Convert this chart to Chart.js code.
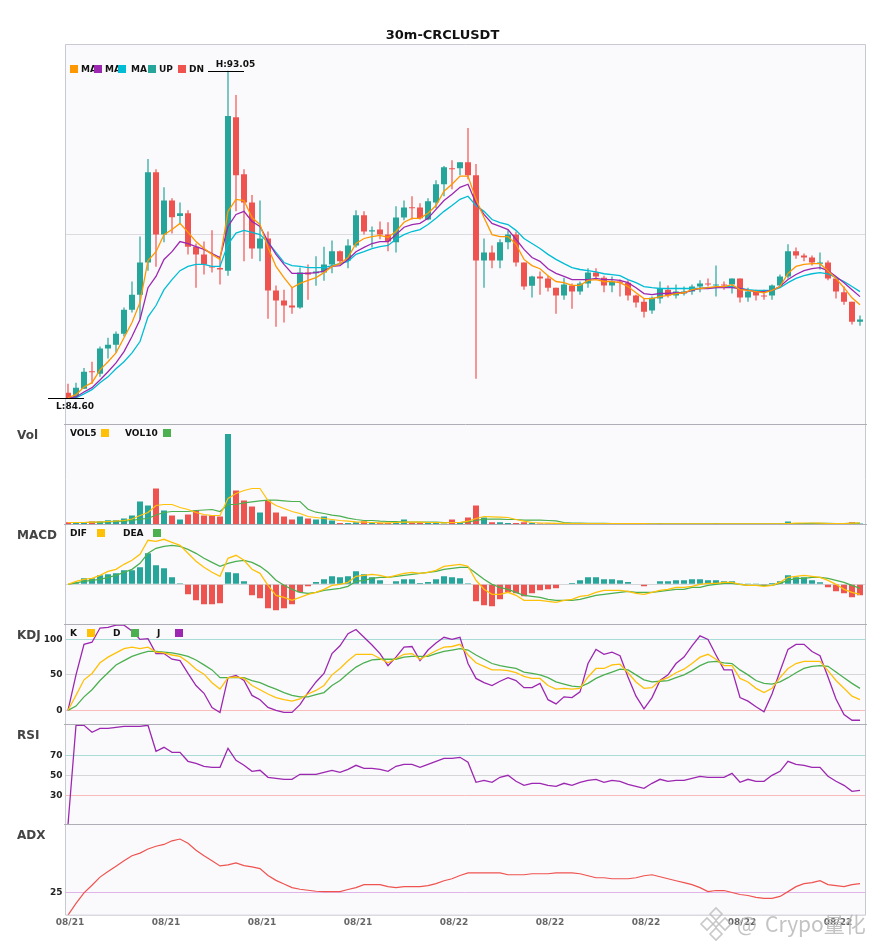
<!DOCTYPE html>
<html><head><meta charset="utf-8">
<style>html,body{margin:0;padding:0;background:#fff}canvas{display:block}</style>
<script src="https://cdn.jsdelivr.net/npm/chart.js@4"></script>
</head><body><canvas id="c" width="885" height="950"></canvas>
<script>
const title = '30m-CRCLUSDT';
const dateLabels = ['08/21','08/21','08/21','08/21','08/22','08/22','08/22','08/22','08/22'];
const opens = [84.74,84.63,84.84,85.29,85.23,85.88,85.98,86.26,86.88,87.27,
88.10,90.43,88.82,89.70,89.30,89.37,88.51,88.31,88.00,87.96,
87.89,91.85,90.38,89.65,88.46,88.72,87.38,87.12,86.99,86.94,
87.84,87.82,87.84,88.05,88.39,88.15,88.54,89.32,88.90,88.95,
88.82,88.62,89.26,89.52,89.52,89.21,89.65,90.12,90.53,90.53,
90.69,90.35,88.15,88.36,88.15,88.62,88.82,88.10,87.50,87.74,
87.69,87.45,87.25,87.51,87.35,87.56,87.84,87.71,87.51,87.61,
87.58,87.25,87.09,86.86,87.17,87.40,87.25,87.30,87.35,87.48,
87.56,87.51,87.53,87.53,87.69,87.20,87.35,87.25,87.25,87.51,
87.74,88.39,88.28,88.23,88.07,88.10,87.69,87.33,87.09,86.57];
const closes = [84.60,84.87,85.28,85.27,85.88,85.98,86.26,86.88,87.27,88.10,
90.43,88.82,89.70,89.27,89.37,88.51,88.31,88.05,87.97,87.92,
91.88,90.35,89.65,88.46,88.72,87.38,87.12,86.99,86.94,87.84,
87.79,87.87,88.05,88.39,88.13,88.54,89.32,88.90,88.93,88.82,
88.64,89.26,89.52,89.50,89.24,89.68,90.12,90.56,90.51,90.69,
90.35,88.15,88.36,88.15,88.62,88.82,88.10,87.48,87.74,87.69,
87.45,87.25,87.53,87.35,87.56,87.84,87.74,87.51,87.61,87.58,
87.25,87.07,86.83,87.19,87.43,87.25,87.35,87.35,87.48,87.56,
87.53,87.53,87.51,87.69,87.20,87.35,87.25,87.22,87.51,87.74,
88.39,88.28,88.23,88.10,88.10,87.69,87.35,87.09,86.57,86.63];
const lows = [84.60,84.61,84.84,84.97,85.15,85.62,85.77,86.19,86.81,86.63,
87.89,87.99,88.62,88.85,89.09,88.31,87.45,87.79,87.84,87.53,
87.76,89.42,88.13,88.20,88.13,86.65,86.44,86.55,86.78,86.91,
87.14,87.50,87.63,87.82,88.05,87.95,88.49,88.82,88.49,88.70,
88.39,88.36,89.19,89.21,89.21,89.19,89.50,89.81,89.99,90.35,
90.25,85.10,87.45,87.95,87.95,88.44,88.00,87.40,87.20,87.27,
87.35,86.78,87.14,86.91,87.27,87.45,87.66,87.33,87.33,87.22,
87.12,86.94,86.68,86.78,87.04,87.20,87.17,87.25,87.27,87.33,
87.48,87.22,87.40,87.30,87.07,87.09,87.12,87.14,87.14,87.45,
87.69,88.20,88.13,88.02,87.92,87.64,87.17,87.01,86.50,86.47];
const highs = [84.97,85.00,85.38,85.54,85.93,86.16,86.32,86.94,87.61,88.77,
90.77,90.51,90.04,89.76,89.65,89.45,88.59,88.64,88.93,88.23,
93.05,92.42,90.51,89.84,89.70,88.90,87.51,87.40,87.45,87.97,
88.05,88.26,88.51,88.67,88.41,88.70,89.45,89.42,89.03,89.16,
89.14,89.55,89.70,89.81,89.63,89.76,90.22,90.59,90.74,90.69,
91.57,90.64,88.72,88.54,88.70,88.93,88.90,88.10,87.76,87.87,
87.76,87.45,87.71,87.56,87.61,87.95,87.95,87.76,87.74,87.66,
87.64,87.27,87.17,87.22,87.61,87.51,87.53,87.48,87.53,87.64,
87.69,88.02,87.61,87.69,87.69,87.45,87.40,87.40,87.53,87.79,
88.57,88.49,88.33,88.28,88.36,88.15,87.69,87.48,87.09,86.73];
const ma5 = [84.61,84.69,84.89,85.00,85.33,85.54,85.77,86.16,86.55,87.07,
88.15,88.38,88.82,88.95,89.11,88.88,88.64,88.46,88.31,88.18,
89.42,89.73,89.70,89.26,89.08,88.49,88.00,87.71,87.45,87.56,
87.64,87.71,87.84,88.00,88.07,88.23,88.59,88.72,88.77,88.80,
88.75,88.90,89.14,89.24,89.24,89.37,89.57,89.94,90.12,90.33,
90.33,89.73,89.26,88.82,88.77,88.77,88.57,88.18,88.02,87.94,
87.76,87.61,87.58,87.51,87.51,87.64,87.66,87.61,87.61,87.58,
87.48,87.32,87.17,87.17,87.22,87.25,87.30,87.32,87.40,87.43,
87.45,87.48,87.48,87.53,87.40,87.38,87.35,87.32,87.38,87.48,
87.82,88.00,88.05,88.07,88.07,87.88,87.69,87.45,87.19,87.01];
const ma10 = [84.61,84.63,84.76,84.87,85.07,85.28,85.51,85.80,86.19,86.63,
87.45,87.74,88.18,88.38,88.64,88.59,88.51,88.44,88.33,88.23,
89.03,89.34,89.42,89.16,89.03,88.64,88.31,88.05,87.82,87.82,
87.82,87.84,87.88,88.00,88.02,88.18,88.38,88.49,88.59,88.64,
88.64,88.82,89.01,89.08,89.11,89.24,89.47,89.70,89.86,90.04,
90.12,89.63,89.34,89.11,89.03,88.95,88.70,88.44,88.23,88.13,
87.94,87.82,87.74,87.66,87.66,87.66,87.69,87.66,87.66,87.64,
87.58,87.45,87.30,87.27,87.30,87.30,87.32,87.32,87.38,87.43,
87.43,87.45,87.45,87.45,87.43,87.38,87.35,87.35,87.38,87.48,
87.66,87.79,87.89,87.94,87.97,87.89,87.74,87.58,87.40,87.22];
const ma20 = [84.61,84.61,84.71,84.82,85.00,85.15,85.36,85.54,85.77,86.06,
86.70,86.99,87.40,87.66,87.89,88.00,88.05,88.05,88.00,88.00,
88.57,88.86,88.93,88.88,88.82,88.62,88.36,88.10,88.02,88.00,
87.97,87.97,87.97,88.02,88.07,88.13,88.31,88.38,88.46,88.51,
88.54,88.70,88.82,88.90,88.95,89.08,89.24,89.42,89.57,89.73,
89.81,89.57,89.42,89.21,89.13,89.08,88.93,88.72,88.59,88.46,
88.31,88.18,88.07,87.97,87.92,87.89,87.86,87.81,87.79,87.76,
87.66,87.58,87.48,87.45,87.43,87.43,87.43,87.43,87.43,87.43,
87.45,87.45,87.48,87.48,87.43,87.40,87.38,87.38,87.38,87.45,
87.58,87.69,87.76,87.81,87.84,87.81,87.71,87.61,87.48,87.35];
const volume = [2.3,2,2,3,3,4.3,4.3,6,9,23,
19,36,14,9,5,10,14,9,9,8,
90.5,34,24,18,12,24,12,8,5,8,
6,5,8,4,1.5,1.5,2.3,3.3,1.5,1.5,
1.5,2,5,1.5,1.5,2,1.5,1,5,2,
7,19,7,2.3,2.3,1.5,1.5,2.3,1.5,1,
1,1.5,1,1,1,1,0.7,0.7,0.7,0.7,
0.6,0.6,0.6,0.6,1.3,0.6,0.6,0.6,0.5,0.5,
0.5,1.3,0.5,0.5,0.5,0.5,0.5,0.5,0.6,0.7,
3,0.8,0.8,0.8,0.8,0.8,0.8,1.3,2.3,1];
const vol5 = [2,2,2,2.3,2.5,3,3.5,4,5.5,9,
12,19,20,20,17,15,12,10,9,9,
26,31,34,36,36,24,19,16,13,11,
8,7,6,5,4,3.3,2.7,2.3,2,1.7,
1.7,2,2.3,2.3,2.3,2,2,1.7,2,2,
3.3,6,8,7.7,7.3,7,5,3.3,2,1.5,
1.3,1.2,1.1,1,1,1,0.8,0.8,0.8,0.8,
0.8,0.8,0.8,0.7,0.7,0.7,0.7,0.6,0.6,0.6,
0.6,0.6,0.6,0.6,0.6,0.6,0.6,0.6,0.6,0.6,
1,1.3,1.5,1.5,1.4,1,0.9,1,1.4,1.5];
const vol10 = [2,2,2,2.2,2.4,2.7,3,3.4,4,5.3,
6,9.5,12,13,13,13,14,14.5,15,13,
20,20,21.7,22.7,23.7,24.3,24.3,23.7,23,23,
15.3,12.3,11,9.3,8.3,6.3,5,4,4,3.3,
3,3,2.3,2.3,2.3,2.3,2.3,2,2,2,
2.7,4,5.3,5.3,5.3,5,5,4.3,4.3,4.3,
4,3.7,2,1.5,1.3,1.2,1.2,1.1,1,1,
0.9,0.8,0.8,0.7,0.7,0.7,0.7,0.7,0.6,0.6,
0.6,0.6,0.6,0.6,0.6,0.6,0.6,0.6,0.6,0.6,
0.9,1,1,1.1,1.1,1.1,1,1,1.2,1.3];
const macdHist = [0,2,6,6,9,10,11,14,14,17,
31,19,16,7,1,-10,-16,-20,-20,-19,
12,11,3,-11,-14,-24,-26,-24,-20,-8,
-2,2.3,5,8,7,8,13,10,7,4,
0,3,5,5,1.3,2.3,5,8,7,6,
1,-17,-21,-22,-15,-8,-9,-12,-9,-6,
-5,-4,0,1.3,4,7,7,5,5,4,
2.3,0,-2,0,3,3,4,4,5,5,
4,4,3,3,0.3,0.3,0.3,-1.5,1.3,3,
9,7,7,4,2,-3,-7,-9,-13,-11];
const dif = [0,3,5,6,9,13,15,20,24,30,
44,43,45,42,39,31,23,17,12,8,
26,29,24,15,11,-1,-11,-13,-16,-13,
-10,-8,-5,-1,0,2,8,9,10,9,
7,9,11,12,11,12,14,18,19,20,
18,4,-5,-10,-10,-8,-11,-16,-16,-16,
-17,-18,-16,-15,-12,-11,-8,-6,-6,-6,
-7,-9,-10,-8,-6,-5,-3,-3,-2,0,
1,1,2,2,0,-1,-1,-2,-1,2,
7,8,9,8,7,4,0,-5,-8,-10];
const dea = [0,1.5,3,4,5,7,9,12,15,21,
31,36,38,39,38,35,31,26,22,18,
21,23,24,22,18,12,4,-1,-5,-8,
-9,-8,-6,-5,-4,-2,3,4,6,7,
7,8,9,10,11,12,13,15,16,17,
17,11,5,0,-3,-5,-8,-11,-12,-13,
-15,-16,-16,-16,-15,-13,-11,-10,-9,-8,
-7,-8,-8,-8,-7,-6,-5,-5,-3,-3,
-1,0,1,1,0,-1,-1,-1,-1,1,
4,6,6,7,7,6,4,2,-1,-4];
const kdjK = [0,21,43,52,67,75,81,87,89,87,
89,82,81,78,76,68,58,51,39,30,
46,47,45,35,29,23,18,15,13,16,
23,28,35,50,59,70,79,79,79,73,
67,73,79,80,72,78,84,89,90,93,
78,67,62,57,57,56,53,48,45,45,
35,30,31,30,31,47,59,59,64,65,
53,40,31,32,42,46,53,58,66,75,
79,72,63,63,45,40,31,25,31,46,
59,66,69,69,69,56,42,31,20,15];
const kdjD = [0,6,19,29,42,53,64,70,76,80,
83,83,82,81,79,76,71,64,57,46,
46,46,46,42,39,34,30,25,21,19,
19,22,25,35,42,52,61,67,71,72,
72,72,75,76,76,76,80,83,85,87,
85,78,72,66,63,61,59,54,52,50,
46,40,37,34,33,38,45,50,54,58,
57,50,43,40,41,42,46,50,56,63,
68,69,67,66,57,50,42,38,37,40,
46,53,59,62,63,62,54,46,38,31];
const kdjJ = [0,50,93,96,116,117,120,120,112,100,
101,80,80,72,70,52,35,24,4,-3,
46,49,42,21,15,4,0,-3,-3,8,
25,40,52,80,91,108,114,103,92,80,
63,75,89,90,70,85,95,103,100,103,
66,45,39,35,41,46,42,32,32,38,
15,9,19,18,26,66,86,79,82,77,
47,20,2,18,42,50,66,75,91,105,
100,78,57,57,18,13,5,-2,23,55,
86,93,93,83,77,47,16,-6,-14,-14];
const rsi = [0.8,100,100,93,97,97,98,99,99,99,
100,74,78,73,73,64,62,59,58,58,
77,65,60,54,55,48,47,46,46,51,
51,51,53,55,53,56,60,57,57,56,
54,59,61,61,58,61,64,67,67,68,
63,43,45,43,48,50,44,40,42,42,
40,39,42,40,43,45,46,43,45,44,
41,39,37,42,46,44,45,45,47,49,
48,48,48,52,43,46,44,44,50,54,
64,61,60,58,58,49,44,40,34,35];
const adx = [0,13,24.6,33,42,48.2,54,60,65.6,68.5,
73,76,78,82,84,79.3,71.7,65.6,60,54.3,
55.4,57.6,54.7,53.3,51.4,43.8,38.4,34.4,30.4,28.6,
27.5,26.4,26,26,26,28.3,30.4,33.7,33.7,33.7,
31.5,30.4,31.5,31.5,31.5,32.6,34.8,38,40.2,43.8,
46.7,46.7,46.7,46.7,46.7,44.6,44.6,44.6,45.7,45.7,
45.7,46.7,46.7,46.7,45.7,43.5,41.3,41.3,40.2,40.2,
40.2,41.3,43.5,44.6,42.4,40.2,38,35.9,33.7,30.4,
26,27.2,27.2,25,22.8,21.7,19.6,18.5,18.5,20.7,
26,31.5,34.8,35.9,38,33.7,32.6,31.5,33.7,34.8];

const TEAL='#26a69a', RED='#ef5350', ORANGE='#ff9800', PURPLE='#9c27b0', CYAN='#00bcd4', YELLOW='#ffc107', GREEN='#4caf50';
const FONT='"DejaVu Sans"';
const up = closes.map((c,i)=>c>=opens[i]);
const candleColor = up.map(u=>u?TEAL:RED);
const pts = a => a.map((y,i)=>({x:i,y}));

const line = (label,data,yAxisID,color,w) => ({type:'line',label,data:pts(data),yAxisID,borderColor:color,borderWidth:w||1.3,pointRadius:0,tension:0,fill:false,order:1});
const bar = (label,data,yAxisID,color,thick,extra) => Object.assign({type:'bar',label,data:data.map((y,i)=>({x:i,y})),yAxisID,backgroundColor:color,borderWidth:0,inflateAmount:0,barThickness:thick,grouped:false,order:5},extra||{});

const datasets = [
  bar('wick',lows.map((l,i)=>[l,highs[i]]),'yPrice',candleColor,1.2,{order:6}),
  bar('body',opens.map((o,i)=>[o,closes[i]]),'yPrice',candleColor,6,{order:5,minBarLength:1}),
  line('MA5',ma5,'yPrice',ORANGE,1.3),
  line('MA10',ma10,'yPrice',PURPLE,1.3),
  line('MA20',ma20,'yPrice',CYAN,1.3),
  bar('Vol',volume,'yVol',candleColor,6),
  line('VOL5',vol5,'yVol',YELLOW,1.2),
  line('VOL10',vol10,'yVol',GREEN,1.2),
  bar('MACD',macdHist,'yMacd',macdHist.map(v=>v>=0?TEAL:RED),6),
  line('DIF',dif,'yMacd',YELLOW,1.3),
  line('DEA',dea,'yMacd',GREEN,1.3),
  line('K',kdjK,'yKdj',YELLOW,1.3),
  line('D',kdjD,'yKdj',GREEN,1.3),
  line('J',kdjJ,'yKdj',PURPLE,1.3),
  line('RSI',rsi,'yRsi',PURPLE,1.3),
  line('ADX',adx,'yAdx',RED,1.2)
];

const SOFT_TEAL='#a9dcd7', SOFT_GREY='#d6d6da', SOFT_RED='#f9bcbb', SOFT_PLUM='#e0b4e8';
function yScale(weight,stackWeight,min,max,lines){
  const vals = Object.keys(lines).map(Number);
  return {
    type:'linear',position:'left',stack:'panels',stackWeight,weight,min,max,
    afterFit:s=>{s.width=65.5},
    afterBuildTicks:s=>{s.ticks=vals.map(value=>({value}))},
    border:{display:false},
    grid:{display:true,drawTicks:false,lineWidth:1,color:c=>c.tick?(lines[c.tick.value]||{}).c||'transparent':'transparent'},
    ticks:{autoSkip:false,padding:3,color:'#222',font:{family:FONT,size:9,weight:'bold'},
      callback:v=>(lines[v]||{}).t||''}
  };
}
const panelLabels = [['yVol','Vol'],['yMacd','MACD'],['yKdj','KDJ'],['yRsi','RSI'],['yAdx','ADX']];
const legendRows = [
  {y:69,items:[['MA',81,ORANGE,70],['MA',105,PURPLE,94],['MA',131,CYAN,118],['UP',159,TEAL,148],['DN',189,RED,178]]},
  {y:433,items:[['VOL5',70,YELLOW,101],['VOL10',125,GREEN,163]]},
  {y:533,items:[['DIF',70,YELLOW,97],['DEA',123,GREEN,153]]},
  {y:633,items:[['K',70,YELLOW,87],['D',113,GREEN,131],['J',157,PURPLE,175]]}
];
const decor = {
  id:'decor',
  beforeDraw(ch){
    const {ctx,chartArea:a}=ch;
    ctx.save();ctx.fillStyle='#fafafc';ctx.fillRect(a.left,a.top,a.right-a.left,a.bottom-a.top);ctx.restore();
  },
  afterDatasetsDraw(ch){
    const {ctx,chartArea:a,scales}=ch;
    ctx.save();
    ctx.lineWidth=1;
    ctx.strokeStyle='#c9c9d1';
    ctx.beginPath();
    ctx.moveTo(a.left,a.top);ctx.lineTo(a.right,a.top);
    ctx.moveTo(a.left,a.top);ctx.lineTo(a.left,a.bottom);
    ctx.moveTo(a.right,a.top);ctx.lineTo(a.right,a.bottom);
    ctx.moveTo(a.left,a.bottom);ctx.lineTo(a.right,a.bottom);
    ctx.stroke();
    ctx.strokeStyle='#aeaeb6';
    ctx.beginPath();
    ['yPrice','yVol','yMacd','yKdj','yRsi'].forEach(id=>{const b=scales[id].bottom;ctx.moveTo(a.left-1.5,b);ctx.lineTo(a.right+1.5,b);});
    ctx.stroke();
    // high / low markers
    const hiI=highs.indexOf(Math.max(...highs)), loI=lows.indexOf(Math.min(...lows));
    const xs=scales.x, yp=scales.yPrice;
    ctx.strokeStyle='#000';ctx.lineWidth=1;
    const mark=(i,v)=>{const x=xs.getPixelForValue(i),y=Math.round(yp.getPixelForValue(v))+0.5;ctx.beginPath();ctx.moveTo(x-20,y);ctx.lineTo(x+16,y);ctx.stroke();return [x,y];};
    const [hx,hy]=mark(hiI,highs[hiI]);
    const [lx,ly]=mark(loI,lows[loI]);
    ctx.fillStyle='#111';ctx.font='bold 9px '+FONT;ctx.textBaseline='middle';ctx.textAlign='center';
    ctx.fillText('H:'+highs[hiI].toFixed(2),hx+7.5,hy-6.5);
    ctx.fillText('L:'+lows[loI].toFixed(2),lx+7,ly+8.5);
    // legends: text first, squares over it
    ctx.textAlign='left';
    legendRows.forEach(r=>{
      r.items.forEach(it=>{ctx.fillStyle='#111';ctx.fillText(it[0],it[1],r.y+0.5);});
      r.items.forEach(it=>{ctx.fillStyle=it[2];ctx.fillRect(it[3],r.y-4,8,8);});
    });
    // panel labels
    ctx.fillStyle='#444';ctx.font='bold 12px '+FONT;
    panelLabels.forEach(p=>{ctx.fillText(p[1],17,scales[p[0]].top+11.5);});
    ctx.restore();
  },
  afterDraw(ch){
    const ctx=ch.ctx;
    ctx.save();
    ctx.strokeStyle='rgba(190,190,190,0.85)';ctx.lineWidth=1.6;
    [[716,914,6],[707,924,6],[725,924,6],[716,934,6],[716,924,3]].forEach(d=>{
      ctx.beginPath();ctx.moveTo(d[0]-d[2],d[1]);ctx.lineTo(d[0],d[1]-d[2]);ctx.lineTo(d[0]+d[2],d[1]);ctx.lineTo(d[0],d[1]+d[2]);ctx.closePath();ctx.stroke();
    });
    ctx.fillStyle='rgba(185,185,185,0.85)';
    ctx.textBaseline='middle';ctx.textAlign='left';
    ctx.font='21px "Noto Sans CJK SC"';
    ctx.fillText('@',737,924);
    ctx.fillText('Crypo量化',765,924);
    ctx.restore();
  }
};

new Chart(document.getElementById('c'),{
  data:{datasets},
  plugins:[decor],
  options:{
    responsive:false,animation:false,devicePixelRatio:1,
    events:[],
    layout:{autoPadding:false,padding:0},
    plugins:{
      legend:{display:false},tooltip:{enabled:false},
      title:{display:true,text:title,color:'#111',font:{family:FONT,size:13,weight:'bold',lineHeight:1.2},padding:{top:28,bottom:0.9}}
    },
    scales:{
      x:{type:'linear',position:'bottom',offset:false,min:-0.3125,max:99.6875,
        afterFit:s=>{s.height=34.8},
        afterBuildTicks:s=>{s.ticks=dateLabels.map((_,k)=>({value:k*12}))},
        grid:{display:false,offset:false,drawTicks:false},border:{display:false},
        ticks:{autoSkip:false,maxRotation:0,labelOffset:2,padding:2,color:'#666',font:{family:FONT,size:9,weight:'bold'},
          callback:v=>dateLabels[v/12]}},
      yPrice:yScale(6,380,83.92,93.726,{88.825:{c:'#dcdce0',t:''}}),
      yVol:yScale(5,100,0,100,{}),
      yMacd:yScale(4,100,-40.2,59.8,{0:{c:'#d6d6da',t:''}}),
      yKdj:yScale(3,100,-20,121,{0:{c:SOFT_RED,t:'0'},50:{c:SOFT_GREY,t:'50'},100:{c:SOFT_TEAL,t:'100'}}),
      yRsi:yScale(2,100,0.8,100.8,{30:{c:SOFT_RED,t:'30'},50:{c:SOFT_GREY,t:'50'},70:{c:SOFT_TEAL,t:'70'}}),
      yAdx:yScale(1,90.7,0,100,{25:{c:SOFT_PLUM,t:'25'}}),
      rightGutter:{type:'linear',position:'right',display:true,afterFit:s=>{s.width=19.5},
        grid:{display:false},border:{display:false},ticks:{display:false}}
    }
  }
});
</script></body></html>
